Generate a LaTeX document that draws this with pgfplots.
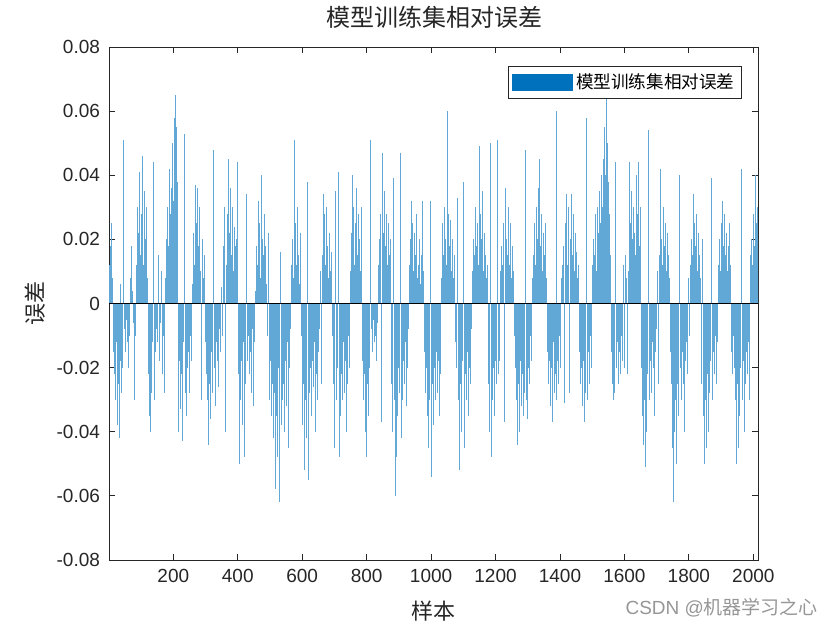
\documentclass[border=0pt]{standalone}
\usepackage{pgfplots}
\pgfplotsset{compat=1.18}
\usepackage{pgfplotstable}
\usepackage{fontspec}
\setmainfont{Liberation Sans}
\newfontfamily\cjk{Noto Sans CJK SC}
\definecolor{mblue}{RGB}{0,114,189}
\definecolor{axgray}{RGB}{38,38,38}
\definecolor{wmgray}{RGB}{150,150,150}

\pgfplotstableread[row sep=\\]{
err\\
0.012\\ 0.018\\ 0.025\\ 0.008\\ -0.015\\ -0.022\\ -0.030\\ -0.012\\ -0.038\\ -0.025\\
-0.042\\ -0.018\\ 0.006\\ -0.028\\ -0.020\\ 0.051\\ -0.008\\ -0.015\\ -0.005\\ -0.012\\
-0.020\\ -0.010\\ 0.008\\ 0.018\\ 0.004\\ -0.006\\ -0.030\\ -0.010\\ 0.012\\ 0.030\\
0.022\\ 0.041\\ 0.015\\ 0.028\\ 0.046\\ 0.012\\ 0.035\\ 0.020\\ 0.030\\ 0.008\\
-0.022\\ -0.035\\ -0.018\\ -0.040\\ -0.028\\ -0.012\\ 0.044\\ -0.030\\ -0.015\\ -0.008\\
-0.012\\ 0.015\\ -0.018\\ -0.006\\ 0.010\\ -0.022\\ -0.010\\ -0.028\\ 0.008\\ 0.020\\
0.030\\ 0.018\\ 0.042\\ 0.028\\ 0.036\\ 0.050\\ 0.032\\ 0.058\\ 0.065\\ 0.055\\
0.038\\ -0.025\\ -0.040\\ -0.018\\ -0.033\\ -0.022\\ -0.043\\ -0.012\\ 0.053\\ -0.028\\
-0.035\\ -0.020\\ -0.015\\ -0.028\\ -0.010\\ -0.018\\ 0.006\\ 0.022\\ 0.012\\ 0.037\\
0.025\\ 0.036\\ 0.018\\ 0.030\\ 0.010\\ -0.030\\ 0.020\\ 0.008\\ 0.015\\ -0.012\\
-0.022\\ -0.030\\ -0.018\\ -0.044\\ -0.025\\ -0.036\\ -0.015\\ -0.028\\ 0.048\\ -0.020\\
-0.032\\ -0.012\\ -0.018\\ -0.026\\ -0.008\\ -0.015\\ 0.005\\ -0.010\\ 0.018\\ 0.030\\
-0.040\\ 0.012\\ 0.028\\ 0.045\\ 0.022\\ 0.036\\ 0.015\\ 0.030\\ 0.010\\ 0.024\\
0.018\\ 0.020\\ 0.012\\ 0.044\\ -0.022\\ -0.050\\ -0.030\\ -0.018\\ -0.038\\ -0.012\\
-0.048\\ -0.025\\ 0.034\\ -0.018\\ -0.010\\ -0.022\\ -0.015\\ -0.028\\ -0.008\\ -0.032\\
-0.012\\ 0.004\\ 0.018\\ 0.012\\ 0.032\\ 0.025\\ 0.008\\ 0.040\\ 0.020\\ 0.015\\
0.028\\ 0.010\\ 0.018\\ 0.006\\ -0.010\\ 0.022\\ -0.030\\ -0.018\\ -0.035\\ -0.025\\
-0.042\\ -0.028\\ -0.058\\ -0.035\\ -0.048\\ -0.020\\ -0.062\\ 0.016\\ -0.038\\ -0.030\\
-0.025\\ -0.040\\ -0.018\\ -0.032\\ -0.012\\ -0.045\\ -0.020\\ -0.008\\ 0.012\\ 0.020\\
0.008\\ 0.051\\ 0.018\\ 0.025\\ 0.012\\ 0.030\\ 0.015\\ 0.006\\ 0.022\\ -0.010\\
-0.038\\ -0.025\\ -0.052\\ -0.030\\ -0.042\\ 0.038\\ -0.055\\ -0.028\\ -0.020\\ -0.035\\
-0.018\\ -0.026\\ -0.012\\ -0.040\\ -0.022\\ -0.030\\ -0.015\\ -0.008\\ 0.010\\ -0.025\\
0.015\\ 0.034\\ 0.020\\ 0.028\\ 0.012\\ 0.030\\ 0.018\\ 0.008\\ 0.022\\ 0.010\\
0.016\\ -0.010\\ -0.025\\ -0.045\\ 0.035\\ -0.030\\ -0.020\\ 0.041\\ -0.048\\ -0.035\\
-0.022\\ -0.030\\ -0.012\\ -0.028\\ -0.018\\ -0.040\\ -0.025\\ -0.010\\ -0.020\\ 0.010\\
0.022\\ 0.040\\ 0.018\\ 0.030\\ 0.012\\ 0.025\\ 0.036\\ 0.015\\ 0.028\\ 0.020\\
0.010\\ 0.030\\ -0.018\\ -0.030\\ -0.022\\ -0.040\\ -0.048\\ -0.025\\ -0.035\\ -0.020\\
0.051\\ -0.008\\ -0.015\\ -0.005\\ -0.012\\ -0.010\\ -0.018\\ -0.006\\ 0.012\\ 0.020\\
0.028\\ -0.037\\ 0.047\\ 0.030\\ 0.022\\ 0.035\\ 0.018\\ 0.028\\ 0.012\\ 0.025\\
0.015\\ 0.020\\ -0.025\\ -0.040\\ 0.039\\ -0.030\\ -0.060\\ -0.048\\ -0.035\\ -0.020\\
-0.028\\ 0.047\\ -0.042\\ -0.030\\ -0.018\\ -0.025\\ -0.012\\ -0.032\\ -0.020\\ -0.008\\
0.012\\ 0.020\\ 0.018\\ 0.032\\ 0.025\\ 0.010\\ 0.022\\ 0.015\\ 0.028\\ 0.008\\
0.012\\ 0.020\\ 0.006\\ 0.015\\ 0.032\\ 0.010\\ -0.015\\ -0.028\\ -0.020\\ -0.035\\
-0.045\\ -0.030\\ 0.032\\ -0.054\\ -0.025\\ -0.038\\ -0.020\\ -0.030\\ -0.015\\ -0.028\\
-0.018\\ -0.035\\ -0.012\\ -0.022\\ 0.008\\ 0.025\\ 0.015\\ 0.030\\ 0.020\\ 0.012\\
0.060\\ 0.028\\ 0.018\\ 0.026\\ 0.010\\ 0.020\\ 0.008\\ 0.015\\ -0.012\\ -0.020\\
0.033\\ -0.030\\ -0.052\\ -0.025\\ -0.040\\ -0.018\\ 0.038\\ -0.045\\ -0.022\\ -0.030\\
-0.015\\ -0.035\\ -0.020\\ -0.012\\ -0.025\\ -0.008\\ 0.010\\ 0.020\\ 0.015\\ 0.030\\
0.018\\ 0.025\\ 0.012\\ 0.049\\ 0.028\\ 0.020\\ 0.035\\ 0.010\\ 0.022\\ 0.015\\
0.008\\ 0.012\\ -0.025\\ -0.040\\ 0.050\\ -0.048\\ -0.030\\ -0.020\\ -0.035\\ -0.018\\
-0.025\\ 0.051\\ -0.022\\ -0.012\\ -0.018\\ 0.010\\ 0.018\\ 0.012\\ 0.025\\ -0.037\\
0.036\\ 0.020\\ 0.015\\ 0.030\\ 0.012\\ 0.025\\ 0.008\\ 0.018\\ 0.010\\ -0.010\\
-0.020\\ -0.030\\ -0.044\\ -0.025\\ -0.040\\ -0.018\\ -0.032\\ -0.022\\ -0.035\\ -0.028\\
0.048\\ -0.030\\ -0.015\\ -0.036\\ -0.020\\ -0.025\\ -0.010\\ -0.018\\ 0.008\\ 0.015\\
0.025\\ 0.012\\ 0.030\\ 0.020\\ 0.036\\ 0.045\\ 0.018\\ 0.028\\ 0.010\\ 0.022\\
0.015\\ 0.025\\ 0.008\\ -0.015\\ -0.025\\ -0.018\\ -0.032\\ -0.020\\ -0.037\\ -0.012\\
-0.028\\ -0.022\\ 0.060\\ -0.030\\ -0.018\\ -0.025\\ -0.010\\ -0.020\\ 0.008\\ 0.012\\
0.018\\ -0.031\\ 0.025\\ 0.034\\ 0.012\\ 0.030\\ -0.028\\ 0.020\\ 0.034\\ 0.015\\
0.028\\ 0.010\\ 0.022\\ 0.016\\ 0.008\\ 0.012\\ -0.015\\ -0.025\\ -0.020\\ -0.032\\
-0.018\\ -0.037\\ -0.028\\ -0.022\\ 0.058\\ -0.030\\ -0.015\\ -0.025\\ -0.010\\ -0.020\\
0.012\\ 0.020\\ 0.015\\ 0.028\\ 0.010\\ 0.030\\ 0.022\\ 0.035\\ 0.025\\ 0.040\\
0.030\\ 0.045\\ 0.055\\ 0.040\\ 0.066\\ 0.050\\ 0.038\\ 0.028\\ 0.015\\ -0.015\\
-0.025\\ -0.030\\ -0.018\\ -0.028\\ 0.044\\ -0.020\\ -0.012\\ -0.025\\ -0.015\\ -0.022\\
-0.010\\ -0.018\\ 0.012\\ -0.020\\ 0.015\\ 0.008\\ -0.022\\ 0.010\\ 0.044\\ 0.025\\
0.035\\ 0.020\\ 0.030\\ 0.022\\ 0.015\\ 0.040\\ 0.028\\ 0.044\\ 0.018\\ 0.030\\
-0.020\\ -0.035\\ -0.025\\ -0.044\\ -0.030\\ -0.051\\ -0.040\\ -0.022\\ 0.054\\ -0.030\\
-0.018\\ -0.028\\ -0.012\\ -0.020\\ -0.035\\ -0.015\\ -0.008\\ 0.010\\ -0.025\\ 0.015\\
0.042\\ 0.020\\ 0.012\\ 0.030\\ 0.018\\ 0.025\\ 0.010\\ 0.022\\ 0.015\\ 0.008\\
-0.015\\ -0.025\\ -0.035\\ -0.045\\ -0.062\\ -0.040\\ -0.030\\ -0.050\\ -0.025\\ -0.035\\
0.040\\ -0.020\\ -0.030\\ -0.015\\ -0.025\\ -0.040\\ -0.018\\ -0.012\\ -0.022\\ 0.008\\
-0.010\\ 0.012\\ 0.020\\ 0.015\\ 0.034\\ 0.025\\ 0.018\\ 0.028\\ 0.010\\ 0.022\\
0.015\\ 0.008\\ -0.012\\ -0.025\\ 0.020\\ -0.035\\ -0.050\\ -0.030\\ -0.045\\ -0.022\\
-0.040\\ -0.028\\ -0.018\\ 0.039\\ -0.030\\ -0.015\\ -0.022\\ -0.010\\ -0.025\\ -0.012\\
0.012\\ 0.020\\ 0.010\\ 0.025\\ 0.032\\ 0.018\\ 0.028\\ 0.015\\ 0.022\\ 0.010\\
0.018\\ 0.025\\ 0.008\\ 0.012\\ -0.015\\ -0.022\\ -0.010\\ -0.020\\ -0.030\\ -0.050\\
-0.025\\ -0.045\\ -0.035\\ -0.020\\ 0.042\\ -0.030\\ -0.018\\ -0.040\\ -0.025\\ -0.015\\
-0.022\\ -0.012\\ -0.030\\ 0.015\\ 0.020\\ 0.012\\ 0.028\\ 0.018\\ 0.040\\ 0.025\\
0.030\\ 0.020\\
}\errtable

\begin{document}
\begin{tikzpicture}
\useasboundingbox (0,0) rectangle (420pt,315pt);
\begin{axis}[
  at={(54.5pt,35pt)}, anchor=south west,
  scale only axis, width=324.5pt, height=256.5pt,
  xmin=0.5, xmax=2014.5, ymin=-0.08, ymax=0.08,
  xtick={200,400,...,2000},
  xticklabels={200,400,600,800,1000,1200,1400,1600,1800,2000},
  ytick={-0.08,-0.06,...,0.081},
  yticklabels={-0.08,-0.06,-0.04,-0.02,0,0.02,0.04,0.06,0.08},
  scaled y ticks=false,
  tick align=inside, tick pos=both,
  major tick length=3pt,
  axis line style={axgray, line width=0.4pt},
  every tick/.style={axgray, line width=0.4pt},
  tick label style={font=\fontsize{9.5}{11}\selectfont, text=axgray},
  xticklabel style={yshift=-1pt},
  yticklabel style={xshift=-1pt},
  title={\cjk 模型训练集相对误差},
  title style={font=\fontsize{12}{14}\selectfont, text=axgray, at={(0.502,1.035)}, anchor=center},
  xlabel={\cjk 样本},
  xlabel style={font=\fontsize{11}{13}\selectfont, text=axgray, at={(0.5,-0.0994)}, anchor=center},
  ylabel={\cjk 误差},
  ylabel style={font=\fontsize{11}{13}\selectfont, text=axgray, at={(-0.114,0.5)}, anchor=center},
  legend style={at={(0.9753,0.963)}, anchor=north east, draw=axgray, line width=0.4pt,
    font=\fontsize{8.8}{10}\selectfont, inner sep=1.5pt, row sep=0pt,
    cells={anchor=west}},
  legend cell align=left,
  clip=true,
]
\addplot[ycomb, color=mblue!62!white, line width=0.28pt,
  legend image code/.code={\fill[mblue] (0pt,-4.2pt) rectangle (30pt,4.2pt);}]
  table[x expr=\coordindex*3+1, y=err] {\errtable};
\addlegendentry{\cjk 模型训练集相对误差}
\addplot[black, line width=0.5pt, forget plot] coordinates {(0.5,0) (2014.5,0)};
\end{axis}
\node[anchor=east, text=wmgray, font=\fontsize{9.5}{11}\selectfont] at (412.5pt,11pt) {CSDN @{\cjk 机器学习之心}};
\end{tikzpicture}
\end{document}
